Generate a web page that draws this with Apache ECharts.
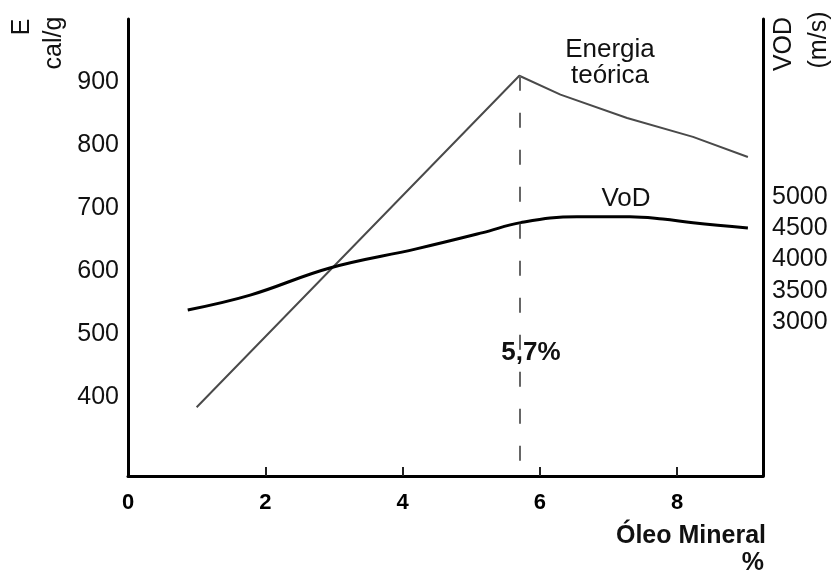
<!DOCTYPE html>
<html>
<head>
<meta charset="utf-8">
<script src="https://cdn.jsdelivr.net/npm/echarts@6/dist/echarts.min.js"></script>
<style>html,body{margin:0;padding:0;background:#fff;}#c{width:834px;height:574px;}</style>
</head>
<body>
<div id="c"></div>
<script>
// Data
const xTicks = [0, 2, 4, 6, 8];
const energyTicks = [400, 500, 600, 700, 800, 900];
const vodTicks = [3000, 3500, 4000, 4500, 5000];
// Energia teórica (cal/g) vs Óleo Mineral (%)
const energyX = [1.0, 5.7, 6.3, 7.27, 8.23, 9.03];
const energyY = [384, 910, 880, 843, 813, 781];
// VoD (m/s) vs Óleo Mineral (%)
const vodX = [0.87, 1.78, 2.94, 4.2, 5.17, 5.72, 6.54, 7.31, 7.79, 8.23, 9.03];
const vodY = [3192, 3430, 3864, 4170, 4430, 4590, 4685, 4685, 4648, 4589, 4504];
const peakX = 5.7;

const FONT = '"Liberation Sans", Arial, sans-serif';
const chart = echarts.init(document.getElementById('c'));
const zipXY = (xs, ys) => xs.map((x, i) => [x, ys[i]]);

chart.setOption({
  animation: false,
  backgroundColor: '#fff',
  grid: { left: 128, right: 71, top: 19, bottom: 98, containLabel: false },
  xAxis: {
    type: 'value', min: 0, max: 9.25,
    axisLine: { show: true, lineStyle: { color: '#000', width: 3 } },
    axisTick: { show: true, inside: true, length: 9, customValues: xTicks.slice(1), lineStyle: { color: '#222', width: 2 } },
    axisLabel: { customValues: xTicks, color: '#000', fontSize: 22, fontWeight: 'bold', fontFamily: FONT, margin: 16 },
    splitLine: { show: false }
  },
  yAxis: [
    {
      type: 'value', min: 275, max: 1000, position: 'left',
      axisLine: { show: true, lineStyle: { color: '#000', width: 3 } },
      axisTick: { show: false },
      axisLabel: { customValues: energyTicks, formatter: v => String(v), color: '#111', fontSize: 25, fontFamily: FONT, margin: 9 },
      splitLine: { show: false }
    },
    {
      type: 'value', min: 536, max: 7848, position: 'right',
      axisLine: { show: true, lineStyle: { color: '#000', width: 3 } },
      axisTick: { show: false },
      axisLabel: { customValues: vodTicks, formatter: v => String(v), color: '#111', fontSize: 25, fontFamily: FONT, margin: 9 },
      splitLine: { show: false }
    }
  ],
  series: [
    {
      name: 'Energia teórica', type: 'line', yAxisIndex: 0, symbol: 'none',
      data: zipXY(energyX, energyY),
      lineStyle: { color: '#4a4a4a', width: 2 },
      markLine: {
        silent: true, symbol: 'none', label: { show: false },
        lineStyle: { color: '#666', width: 2, type: [15, 22] },
        data: [[{ coord: [peakX, energyY[1]] }, { coord: [peakX, 275] }]]
      }
    },
    {
      name: 'VoD', type: 'line', yAxisIndex: 1, symbol: 'none', smooth: 0.4,
      data: zipXY(vodX, vodY),
      lineStyle: { color: '#000', width: 3 }
    }
  ],
  graphic: [
    { type: 'text', x: 22, y: 27, rotation: Math.PI / 2, style: { text: 'E', fill: '#111', font: '25px ' + FONT, align: 'center', verticalAlign: 'middle' } },
    { type: 'text', x: 54, y: 43, rotation: Math.PI / 2, style: { text: 'cal/g', fill: '#111', font: '25px ' + FONT, align: 'center', verticalAlign: 'middle' } },
    { type: 'text', x: 784, y: 44, rotation: Math.PI / 2, style: { text: 'VOD', fill: '#111', font: '25px ' + FONT, align: 'center', verticalAlign: 'middle' } },
    { type: 'text', x: 819, y: 40, rotation: Math.PI / 2, style: { text: '(m/s)', fill: '#111', font: '25px ' + FONT, align: 'center', verticalAlign: 'middle' } },
    { type: 'text', x: 610, y: 50, style: { text: 'Energia', fill: '#111', font: '26px ' + FONT, align: 'center', verticalAlign: 'middle' } },
    { type: 'text', x: 610, y: 76, style: { text: 'teórica', fill: '#111', font: '26px ' + FONT, align: 'center', verticalAlign: 'middle' } },
    { type: 'text', x: 626, y: 199, style: { text: 'VoD', fill: '#111', font: '26px ' + FONT, align: 'center', verticalAlign: 'middle' } },
    { type: 'text', x: 531, y: 353, style: { text: '5,7%', fill: '#111', font: 'bold 26px ' + FONT, align: 'center', verticalAlign: 'middle' } },
    { type: 'text', x: 766, y: 536, style: { text: 'Óleo Mineral', fill: '#111', font: 'bold 25px ' + FONT, align: 'right', verticalAlign: 'middle' } },
    { type: 'text', x: 764, y: 563, style: { text: '%', fill: '#111', font: 'bold 25px ' + FONT, align: 'right', verticalAlign: 'middle' } }
  ]
});
</script>
</body>
</html>
